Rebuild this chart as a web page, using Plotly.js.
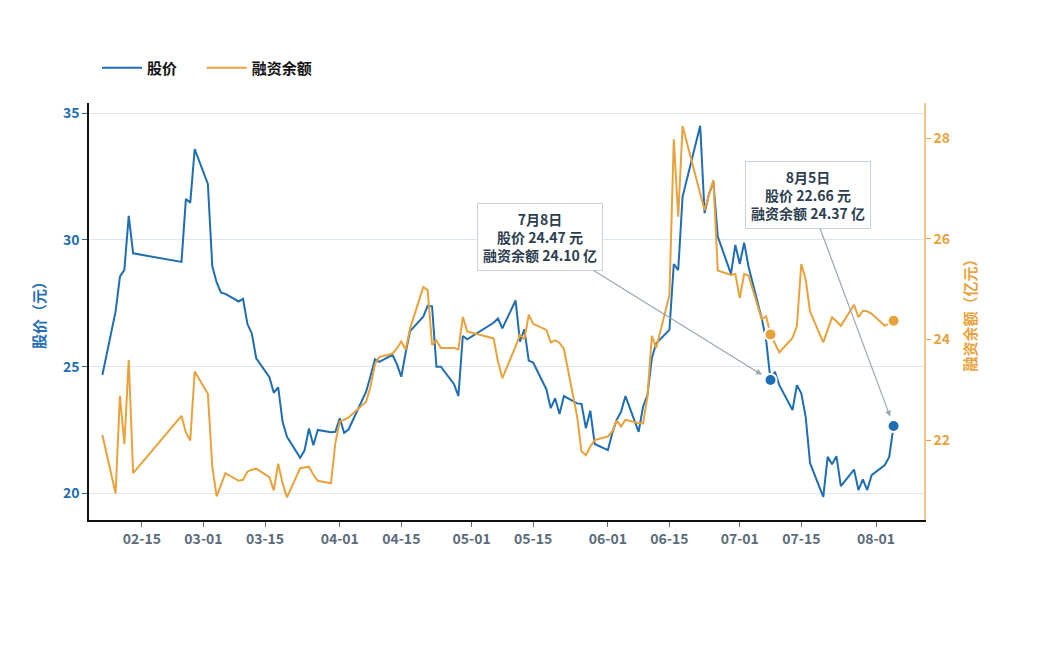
<!DOCTYPE html>
<html>
<head>
<meta charset="utf-8">
<script src="https://cdn.plot.ly/plotly-3.0.1.min.js"></script>
<style>
  html, body { margin: 0; padding: 0; background: #fff; }
  #chart { width: 1050px; height: 650px; }
</style>
</head>
<body>
<div id="chart"></div>
<script>
// trading days, 2026
var dates = [
    '2026-02-06','2026-02-09','2026-02-10','2026-02-11','2026-02-12','2026-02-13',
    '2026-02-24','2026-02-25','2026-02-26','2026-02-27',
    '2026-03-02','2026-03-03','2026-03-04','2026-03-05','2026-03-06',
    '2026-03-09','2026-03-10','2026-03-11','2026-03-12','2026-03-13',
    '2026-03-16','2026-03-17','2026-03-18','2026-03-19','2026-03-20',
    '2026-03-23','2026-03-24','2026-03-25','2026-03-26','2026-03-27',
    '2026-03-30','2026-03-31','2026-04-01','2026-04-02','2026-04-03',
    '2026-04-07','2026-04-08','2026-04-09','2026-04-10',
    '2026-04-13','2026-04-14','2026-04-15','2026-04-16','2026-04-17',
    '2026-04-20','2026-04-21','2026-04-22','2026-04-23','2026-04-24',
    '2026-04-27','2026-04-28','2026-04-29','2026-04-30',
    '2026-05-06','2026-05-07','2026-05-08',
    '2026-05-11','2026-05-12','2026-05-13','2026-05-14','2026-05-15',
    '2026-05-18','2026-05-19','2026-05-20','2026-05-21','2026-05-22',
    '2026-05-25','2026-05-26','2026-05-27','2026-05-28','2026-05-29',
    '2026-06-01','2026-06-02','2026-06-03','2026-06-04','2026-06-05',
    '2026-06-08','2026-06-09','2026-06-10','2026-06-11','2026-06-12',
    '2026-06-15','2026-06-16','2026-06-17','2026-06-18',
    '2026-06-22','2026-06-23','2026-06-24','2026-06-25','2026-06-26',
    '2026-06-29','2026-06-30','2026-07-01','2026-07-02','2026-07-03',
    '2026-07-06','2026-07-07','2026-07-08','2026-07-09','2026-07-10',
    '2026-07-13','2026-07-14','2026-07-15','2026-07-16','2026-07-17',
    '2026-07-20','2026-07-21','2026-07-22','2026-07-23','2026-07-24',
    '2026-07-27','2026-07-28','2026-07-29','2026-07-30','2026-07-31',
    '2026-08-03','2026-08-04','2026-08-05'
];

// 股价 (元)
var price = [
    24.67, 27.17, 28.55, 28.82, 30.95, 29.47,
    29.13, 31.61, 31.47, 33.58,
    32.21, 28.97, 28.32, 27.92, 27.87,
    27.57, 27.67, 26.68, 26.31, 25.33,
    24.58, 23.97, 24.18, 22.82, 22.23,
    21.40, 21.70, 22.56, 21.90, 22.50,
    22.41, 22.43, 22.96, 22.39, 22.52,
    24.01, 24.62, 25.29, 25.19,
    25.46, 25.10, 24.60, 25.55, 26.40,
    26.97, 27.40, 27.38, 25.00, 25.00,
    24.31, 23.84, 26.21, 26.08,
    26.73, 26.90, 26.51,
    27.61, 25.99, 26.47, 25.24, 25.16,
    24.11, 23.36, 23.75, 23.13, 23.84,
    23.55, 23.53, 22.57, 23.26, 21.95,
    21.71, 22.37, 22.90, 23.22, 23.84,
    22.43, 23.42, 23.88, 25.33, 25.92,
    26.45, 29.05, 28.81, 31.71,
    34.50, 31.05, 31.80, 32.30, 30.13,
    28.66, 29.80, 29.05, 29.89, 28.94,
    26.90, 26.05, 24.47, 24.80, 24.27,
    23.29, 24.27, 23.95, 23.02, 21.19,
    19.86, 21.44, 21.15, 21.47, 20.29,
    20.94, 20.13, 20.55, 20.13, 20.72,
    21.12, 21.44, 22.66
];

// 融资余额 (亿元)
var margin = [
    22.10, 20.94, 22.88, 21.92, 23.59, 21.34,
    22.48, 22.15, 21.99, 23.36,
    22.92, 21.47, 20.88, 21.11, 21.34,
    21.19, 21.21, 21.37, 21.41, 21.43,
    21.26, 21.00, 21.53, 21.14, 20.86,
    21.44, 21.46, 21.47, 21.31, 21.19,
    21.14, 21.94, 22.37, 22.40, 22.45,
    22.76, 23.06, 23.50, 23.65,
    23.72, 23.82, 23.96, 23.80, 24.22,
    25.04, 24.98, 23.89, 23.98, 23.83,
    23.83, 23.80, 24.45, 24.16,
    24.02, 23.56, 23.23,
    23.86, 24.09, 24.00, 24.49, 24.31,
    24.19, 23.94, 23.98, 23.93, 23.81,
    22.47, 21.77, 21.70, 21.87, 22.00,
    22.07, 22.17, 22.39, 22.27, 22.40,
    22.34, 22.33, 22.86, 24.07, 23.83,
    24.88, 27.98, 26.44, 28.24,
    26.92, 26.57, 26.87, 27.17, 25.37,
    25.28, 25.30, 24.82, 25.30, 25.27,
    24.40, 24.46, 24.10, 23.92, 23.74,
    24.03, 24.27, 25.50, 25.19, 24.55,
    23.94, 24.19, 24.44, 24.36, 24.27,
    24.69, 24.44, 24.57, 24.56, 24.51,
    24.27, 24.32, 24.37
];

var tickDates = ['2026-02-15','2026-03-01','2026-03-15','2026-04-01','2026-04-15','2026-05-01',
                 '2026-05-15','2026-06-01','2026-06-15','2026-07-01','2026-07-15','2026-08-01'];
var tickLabels = ['02-15','03-01','03-15','04-01','04-15','05-01',
                  '05-15','06-01','06-15','07-01','07-15','08-01'];

var markedDates = ['2026-07-08', '2026-08-05'];

var BLUE = '#1f6db3';
var ORANGE = '#e9a23b';
var FONT = '"Noto Sans CJK SC", "Noto Sans", sans-serif';

var markIdx = markedDates.map(function (d) { return dates.indexOf(d); });

var traces = [
    {
        x: dates, y: price, name: '股价', type: 'scatter', mode: 'lines',
        line: { color: BLUE, width: 2 }, yaxis: 'y', legend: 'legend'
    },
    {
        x: dates, y: margin, name: '融资余额', type: 'scatter', mode: 'lines',
        line: { color: ORANGE, width: 2 }, yaxis: 'y2', legend: 'legend2'
    },
    {
        x: markIdx.map(function (i) { return dates[i]; }),
        y: markIdx.map(function (i) { return price[i]; }),
        type: 'scatter', mode: 'markers', showlegend: false, yaxis: 'y',
        marker: { color: BLUE, size: 12, line: { color: '#fff', width: 2 } }
    },
    {
        x: markIdx.map(function (i) { return dates[i]; }),
        y: markIdx.map(function (i) { return margin[i]; }),
        type: 'scatter', mode: 'markers', showlegend: false, yaxis: 'y2',
        marker: { color: ORANGE, size: 12, line: { color: '#fff', width: 2 } }
    }
];

// tail offsets of the callouts (px, relative to the marked point)
var calloutOffsets = [[-231, -143], [-86, -231]];

var annotations = markIdx.map(function (i, k) {
    var d = new Date(dates[i] + 'T00:00:00');
    var txt = (d.getMonth() + 1) + '月' + d.getDate() + '日<br>' +
        '股价 ' + price[i].toFixed(2) + ' 元<br>' +
        '融资余额 ' + margin[i].toFixed(2) + ' 亿';
    return {
        x: dates[i], y: price[i], xref: 'x', yref: 'y',
        text: txt,
        showarrow: true,
        ax: calloutOffsets[k][0], ay: calloutOffsets[k][1],
        arrowhead: 2, arrowsize: 1, arrowwidth: 1.2, arrowcolor: '#9aa6b2',
        standoff: 10,
        bgcolor: '#ffffff', bordercolor: '#c8d2dc', borderwidth: 1, borderpad: 5,
        font: { family: FONT, size: 14, color: '#2c3e50', weight: 'bold' }
    };
});

var legendFont = { family: FONT, size: 15, color: '#111111', weight: 'bold' };

var layout = {
    width: 1050,
    height: 650,
    margin: { l: 89, r: 126, t: 103, b: 130, pad: 0 },
    paper_bgcolor: '#ffffff',
    plot_bgcolor: '#ffffff',
    font: { family: FONT },
    showlegend: true,
    legend: {
        orientation: 'h',
        x: 0.0096, xanchor: 'left',
        y: 1.084, yanchor: 'middle',
        font: legendFont,
        itemwidth: 40
    },
    legend2: {
        orientation: 'h',
        x: 0.135, xanchor: 'left',
        y: 1.084, yanchor: 'middle',
        font: legendFont,
        itemwidth: 40
    },
    xaxis: {
        type: 'date',
        range: ['2026-02-02 23:00', '2026-08-11 22:00'],
        tickvals: tickDates,
        ticktext: tickLabels,
        showgrid: false,
        zeroline: false,
        showline: true, linecolor: '#111111', linewidth: 1.5,
        ticks: 'outside', ticklen: 5, tickcolor: '#5c6b7a',
        tickfont: { family: FONT, size: 14, color: '#5c6b7a', weight: 'bold' }
    },
    yaxis: {
        range: [18.95, 35.4],
        tickvals: [20, 25, 30, 35],
        showgrid: true, gridcolor: '#dde7f0', gridwidth: 1,
        zeroline: false,
        showline: true, linecolor: '#111111', linewidth: 1.5,
        ticks: 'outside', ticklen: 5, tickcolor: BLUE,
        tickfont: { family: FONT, size: 14, color: BLUE, weight: 'bold' },
        title: { text: '股价（元）', standoff: 14,
                 font: { family: FONT, size: 15, color: BLUE, weight: 'bold' } }
    },
    yaxis2: {
        overlaying: 'y',
        side: 'right',
        anchor: 'x',
        range: [20.41, 28.70],
        tickvals: [22, 24, 26, 28],
        showgrid: false,
        zeroline: false,
        showline: true, linecolor: '#f3c48c', linewidth: 1.5,
        ticks: 'outside', ticklen: 5, tickcolor: ORANGE,
        tickfont: { family: FONT, size: 14, color: ORANGE, weight: 'bold' },
        title: { text: '融资余额（亿元）', standoff: 16,
                 font: { family: FONT, size: 15, color: ORANGE, weight: 'bold' } }
    },
    annotations: annotations
};

Plotly.newPlot('chart', traces, layout, { displayModeBar: false, responsive: false });
</script>
</body>
</html>
